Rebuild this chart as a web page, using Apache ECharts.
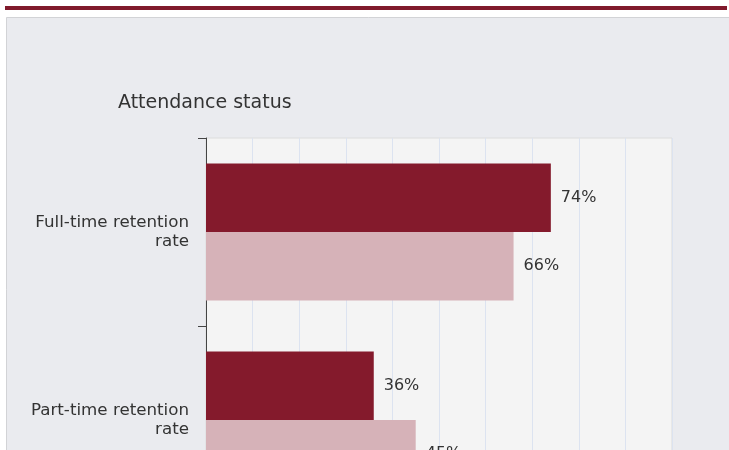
<!DOCTYPE html>
<html>
<head>
<meta charset="utf-8">
<script src="https://cdn.jsdelivr.net/npm/echarts@6/dist/echarts.min.js"></script>
<style>
  html, body { margin: 0; padding: 0; background: #fff; overflow: hidden; }
  /* the reference is a crop of a taller chart, so the canvas runs past the window */
  #chart { width: 729px; height: 560px; }
</style>
</head>
<body>
<div id="chart"></div>
<script>
// categories and values
const categories = ['Full-time retention rate', 'Part-time retention rate']
const courseValues = [74, 36]
const comparisonValues = [66, 45]
const axisMin = 0
const axisMax = 100
const axisStep = 10

const chart = echarts.init(document.getElementById('chart'))

const FONT = 'DejaVu Sans'

const labelStyle = {
  show: true,
  position: 'right',
  distance: 10,
  formatter: '{c}%',
  color: '#333',
  fontFamily: FONT,
  fontSize: 16,
}

chart.setOption({
  backgroundColor: '#fff',
  animation: false,
  graphic: [
    // red rule above the panel
    { type: 'rect', shape: { x: 5, y: 6, width: 722, height: 4 }, style: { fill: '#801A2C' }, silent: true },
    // grey panel
    { type: 'rect', shape: { x: 6.5, y: 17.5, width: 730, height: 600 }, style: { fill: '#EAEBEF', stroke: '#D2D3D6', lineWidth: 1 }, silent: true, z: -10 },
  ],
  title: {
    text: 'Attendance status',
    left: 113,
    top: 89,
    textStyle: { fontFamily: FONT, fontSize: 19, fontWeight: 'normal', color: '#333' },
  },
  grid: {
    left: 206,
    top: 138,
    width: 466,
    height: 376,
    show: true,
    backgroundColor: '#F4F4F4',
    borderColor: '#DCDCDC',
    borderWidth: 1,
  },
  xAxis: {
    type: 'value',
    min: axisMin,
    max: axisMax,
    interval: axisStep,
    axisLine: { show: false },
    axisTick: { show: false },
    axisLabel: { show: false },
    splitLine: { lineStyle: { color: '#DCE3F0', width: 1 } },
  },
  yAxis: {
    type: 'category',
    data: categories,
    inverse: true,
    axisLine: { show: true, lineStyle: { color: '#444', width: 1 } },
    axisTick: { show: true, length: 8, lineStyle: { color: '#444' } },
    axisLabel: {
      margin: 17,
      color: '#333',
      fontFamily: FONT,
      fontSize: 16.7,
      lineHeight: 19,
      align: 'right',
      formatter: (v) => v.replace(/ (\S+)$/, '\n$1'),
    },
  },
  series: [
    {
      name: 'Course',
      type: 'bar',
      data: courseValues,
      barGap: '0%',
      barCategoryGap: '27%',
      itemStyle: { color: '#841A2C' },
      label: labelStyle,
    },
    {
      name: 'Comparison',
      type: 'bar',
      data: comparisonValues,
      itemStyle: { color: '#D6B2B8' },
      label: labelStyle,
    },
  ],
})

window.addEventListener('resize', () => chart.resize())
</script>
</body>
</html>
